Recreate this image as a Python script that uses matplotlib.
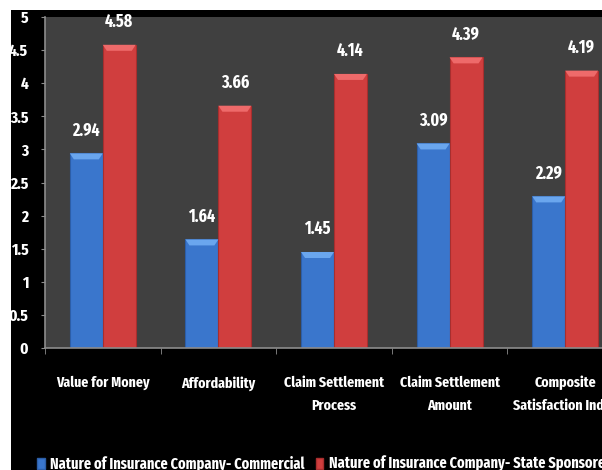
import numpy as np
import matplotlib
matplotlib.use("Agg")
from matplotlib import pyplot as plt
from matplotlib.patches import Rectangle, Polygon, Patch
from matplotlib import font_manager

categories = [
    "Value for Money",
    "Affordability",
    "Claim Settlement\nProcess",
    "Claim Settlement\nAmount",
    "Composite\nSatisfaction Index",
]
commercial = [2.94, 1.64, 1.45, 3.09, 2.29]
state_sponsored = [4.58, 3.66, 4.14, 4.39, 4.19]
series_names = [
    "Nature of Insurance Company- Commercial",
    "Nature of Insurance Company- State Sponsored",
]
y_ticks = [0, 0.5, 1, 1.5, 2, 2.5, 3, 3.5, 4, 4.5, 5]
y_tick_labels = ["0", "0.5", "1", "1.5", "2", "2.5", "3", "3.5", "4", "4.5", "5"]

# narrow font like the squeezed Calibri of the original
names = {f.name for f in font_manager.fontManager.ttflist}
wanted = ["Fira Sans Extra Condensed", "Barlow Condensed", "Roboto Condensed"]
family = [n for n in wanted if n in names][:1] + ["DejaVu Sans"]
plt.rcParams["font.family"] = family
plt.rcParams["font.weight"] = "bold"

W, H = 602, 470
fig = plt.figure(figsize=(W / 100, H / 100), dpi=100)
fig.patch.set_facecolor("white")
fig.add_artist(Rectangle((11 / W, 0), 1, (H - 10) / H, transform=fig.transFigure,
                         facecolor="black", edgecolor="none", zorder=-10))

ax_l, ax_r, ax_t, ax_b = 45, 623, 17, 348
ax = fig.add_axes([ax_l / W, (H - ax_b) / H, (ax_r - ax_l) / W, (ax_b - ax_t) / H])
ax.set_facecolor("#404040")

x = np.arange(len(categories))
width = 0.285
colors = [("#3a76cc", "#6aa6ee", "#2c5ea8"), ("#d03e3e", "#ee6a6a", "#a82e2e")]

# pixel -> data conversion for the bevel caps
px_x = len(categories) / (ax_r - ax_l)
px_y = 5.0 / (ax_b - ax_t)

for i, (vals, (base, light, dark)) in enumerate(zip([commercial, state_sponsored], colors)):
    offs = (i - 0.5) * width
    bars = ax.bar(x + offs, vals, width, color=base, edgecolor=dark, linewidth=0.8, zorder=2)
    for b, v in zip(bars, vals):
        x0, x1 = b.get_x(), b.get_x() + b.get_width()
        top = b.get_height()
        d, h = 4 * px_x, 6 * px_y
        ax.add_patch(Polygon([(x0, top), (x1, top), (x1 - d, top - h), (x0 + d, top - h)],
                             closed=True, facecolor=light, edgecolor="none", zorder=3))
        ax.annotate(f"{v:.2f}", (b.get_x() + b.get_width() / 2, top), xytext=(0, 14),
                    textcoords="offset pixels", ha="center", va="bottom",
                    color="white", fontsize=12.5, fontweight="bold")

ax.set_xlim(-0.5, len(categories) - 0.5)
ax.set_ylim(0, 5)
ax.set_yticks(y_ticks)
ax.set_yticklabels(y_tick_labels)
ax.set_xticks(x)
ax.set_xticklabels(categories, linespacing=1.75)
ax.set_xticks(np.arange(len(categories) + 1) - 0.5, minor=True)
ax.tick_params(axis="x", which="major", length=0, pad=20, colors="white", labelsize=10.8)
ax.tick_params(axis="x", which="minor", length=4, color="#8c8c8c", direction="out")
ax.tick_params(axis="y", length=3, pad=9, color="#8c8c8c", labelcolor="white", labelsize=12)
for s in ["top", "right"]:
    ax.spines[s].set_visible(False)
for s in ["left", "bottom"]:
    ax.spines[s].set_color("#8c8c8c")
    ax.spines[s].set_linewidth(1.2)

handles = [Patch(facecolor=c[0], edgecolor=c[2]) for c in colors]
fig.legend(handles, series_names, loc="center left", bbox_to_anchor=(37 / W, 6 / H),
           bbox_transform=fig.transFigure, ncol=2, frameon=False,
           borderpad=0, borderaxespad=0,
           handlelength=0.5, handleheight=0.75, handletextpad=0.35, columnspacing=0.7,
           labelcolor="white", prop={"size": 11.2, "weight": "bold", "family": family})

fig.savefig("out.png", dpi=100)
